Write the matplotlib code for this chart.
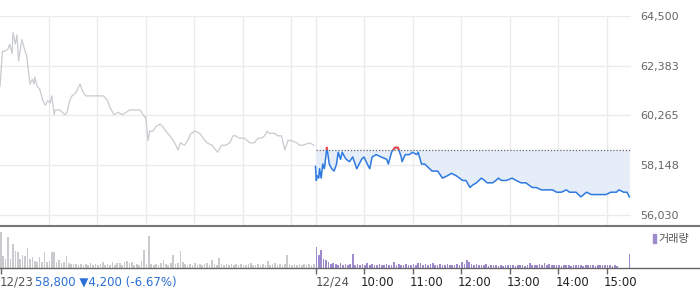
import numpy as np
import matplotlib
matplotlib.use("Agg")
import matplotlib.pyplot as plt
from matplotlib.lines import Line2D
from matplotlib.patches import Rectangle
from matplotlib.transforms import ScaledTranslation, blended_transform_factory


# -----------------------------
# DATA (minutes after 09:00 for each session, price in won)
# -----------------------------
prev_minutes = [0, 3, 6, 10, 12, 15, 16, 19, 21, 23, 27, 31, 33, 37, 40, 42, 43, 46, 49,
                53, 56, 59, 62, 64, 67, 68, 74, 80, 83, 86, 89, 93, 96, 99, 102, 106, 111,
                117, 123, 128, 133, 136, 141, 146, 151, 156, 160, 167, 173, 177, 179, 180,
                183, 185, 189, 193, 198, 201, 205, 210, 216, 220, 223, 228, 232, 236, 241,
                247, 251, 256, 262, 269, 274, 279, 284, 288, 291, 296, 302, 309, 314, 319,
                323, 327, 330, 333, 340, 343, 348, 352, 356, 360, 367, 370, 374, 383, 388]
prev_price = [61500, 63000, 63000, 63100, 63300, 62900, 63800, 63300, 63700, 62600, 63500,
              63000, 62800, 61600, 61800, 61600, 61900, 61500, 61400, 60900, 60700, 60900,
              60800, 61100, 60300, 60500, 60500, 60300, 60400, 60900, 61100, 61200, 61400,
              61600, 61300, 61100, 61100, 61100, 61100, 61100, 60900, 60600, 60300, 60400,
              60300, 60400, 60500, 60500, 60500, 60300, 60200, 60200, 59200, 59600, 59600,
              59800, 59900, 59800, 59600, 59400, 59100, 58800, 59100, 59000, 59200, 59500,
              59600, 59500, 59300, 59100, 59000, 58700, 59000, 59000, 59100, 59400, 59400,
              59300, 59300, 59100, 59100, 59300, 59300, 59400, 59600, 59500, 59500, 59400,
              59400, 58800, 59200, 59200, 59100, 59000, 59000, 59100, 59000]

today_minutes = [0, 1, 2, 4, 5, 7, 9, 11, 14, 15, 17, 20, 23, 26, 28, 31, 33, 36, 38, 42,
                 46, 51, 54, 57, 60, 64, 67, 70, 75, 81, 88, 90, 94, 98, 102, 106, 107, 111,
                 116, 120, 125, 127, 131, 135, 141, 144, 151, 157, 163, 168, 174, 178, 182,
                 186, 191, 194, 199, 205, 209, 212, 219, 223, 226, 230, 236, 243, 248, 254,
                 260, 264, 268, 273, 279, 285, 293, 298, 304, 310, 314, 317, 322, 328, 335,
                 341, 347, 353, 359, 365, 372, 375, 381, 385, 388]
today_price = [58100, 57500, 57700, 57600, 58000, 57600, 58200, 58000, 58900, 58700, 58200,
               58000, 57900, 58200, 58700, 58400, 58700, 58500, 58400, 58300, 58500, 58000,
               58200, 58400, 58500, 58200, 58000, 58500, 58600, 58500, 58400, 58200, 58700,
               58900, 58900, 58500, 58300, 58600, 58600, 58700, 58600, 58700, 58200, 58200,
               58000, 57900, 57900, 57600, 57700, 57800, 57700, 57600, 57500, 57500, 57200,
               57300, 57400, 57600, 57500, 57400, 57400, 57500, 57600, 57500, 57500, 57600,
               57500, 57400, 57400, 57300, 57200, 57200, 57100, 57100, 57100, 57000, 57000,
               57100, 57000, 57000, 57000, 56800, 57000, 56900, 56900, 56900, 56900, 57000,
               57000, 57100, 57000, 57000, 56800]

BASE_PRICE = 58800   # 12/23 close

# volume, one bar per 3 minutes (thousand shares)
prev_volume = [36, 12, 9, 31, 9, 24, 17, 16, 9, 13, 12, 20, 9, 11, 7, 6, 11, 6, 16, 6,
               7, 16, 16, 6, 8, 5, 6, 12, 5, 4, 4, 4, 3, 4, 3, 4, 3, 5, 3, 4,
               3, 4, 6, 3, 4, 3, 6, 3, 5, 5, 3, 6, 7, 5, 6, 3, 4, 3, 7, 18,
               4, 32, 4, 3, 4, 3, 5, 8, 4, 3, 5, 13, 4, 5, 17, 6, 4, 3, 4, 3,
               5, 3, 4, 3, 4, 5, 3, 8, 4, 3, 10, 4, 3, 4, 3, 4, 3, 4, 3, 4,
               3, 3, 4, 5, 3, 3, 4, 3, 4, 3, 7, 3, 4, 5, 3, 4, 3, 4, 13, 4,
               3, 4, 3, 4, 3, 4, 3, 4, 3, 4]
today_volume = [21, 13, 18, 9, 8, 6, 4, 5, 4, 3, 5, 3, 4, 3, 4, 14, 3, 4, 3, 4,
                3, 5, 3, 4, 3, 3, 4, 3, 3, 4, 3, 3, 6, 3, 4, 3, 3, 4, 3, 3,
                4, 3, 5, 5, 3, 4, 3, 4, 5, 3, 3, 4, 3, 3, 4, 3, 3, 3, 4, 3,
                6, 4, 8, 6, 4, 3, 4, 3, 3, 3, 4, 2, 3, 3, 3, 2, 3, 2, 3, 3,
                3, 3, 2, 3, 3, 3, 2, 3, 5, 3, 3, 3, 4, 3, 5, 3, 4, 3, 3, 3,
                3, 2, 3, 3, 3, 2, 3, 3, 3, 3, 2, 3, 3, 3, 3, 2, 3, 3, 3, 3,
                3, 3, 2, 3, 2, 0, 0, 0, 0, 14]

price_ticks = [56030, 58148, 60265, 62383, 64500]
time_labels = ["10:00", "11:00", "12:00", "13:00", "14:00", "15:00"]
day_labels = ["12/23", "12/24"]
info_text = "58,800 \u25bc4,200 (-6.67%)"
legend_label = "거래량"

SESSION = 390   # minutes per trading day


# -----------------------------
# FIGURE / LAYOUT
# -----------------------------
fig = plt.figure(figsize=(7.0, 2.89), dpi=100)
W, H = 700.0, 289.0

ax = fig.add_axes([0, 1 - 225 / H, 631 / W, 209 / H])
axv = fig.add_axes([0, 1 - 268 / H, 631 / W, 40 / H])

# -----------------------------
# PRICE PANEL
# -----------------------------
t_prev = np.array(prev_minutes)
t_today = np.array(today_minutes) + SESSION
p_today = np.array(today_price)

ax.plot(t_prev, prev_price, color="#c8cbd0", lw=0.9, zorder=3)

ax.fill_between(t_today, p_today, BASE_PRICE, color="#e5edf9", lw=0, zorder=1)
ax.plot([SESSION, 2 * SESSION], [BASE_PRICE, BASE_PRICE], color="#666666",
        lw=0.9, linestyle=(0, (1, 1.5)), zorder=2)
ax.plot(t_today, p_today, color="#2f7ae0", lw=1.1, zorder=3)
# above previous close -> red
red, = ax.plot(t_today, p_today, color="#f04848", lw=1.4, zorder=4)
red.set_clip_path(Rectangle((SESSION, BASE_PRICE), SESSION, 10000, transform=ax.transData))

grid_x = [60, 120, 180, 240, 300, 360, 390, 450, 510, 570, 630, 690, 750]
ax.set_xlim(0, 2 * SESSION)
ax.set_ylim(55604, 64500)
ax.set_xticks(grid_x)
ax.set_yticks(price_ticks)
ax.set_yticklabels([f"{v:,}" for v in price_ticks])
ax.grid(True, color="#ebebeb", lw=1)
ax.set_axisbelow(True)
ax.yaxis.tick_right()
ax.tick_params(axis="y", length=0, pad=6.5, labelsize=8, labelcolor="#666666")
ax.tick_params(axis="x", length=0, labelbottom=False)
for s in ax.spines.values():
    s.set_visible(False)
ax.patch.set_alpha(0)

# -----------------------------
# VOLUME PANEL
# -----------------------------
vol_t = np.arange(0, SESSION, 3)
axv.bar(vol_t, prev_volume, width=2.0, align="edge", color="#c8cacd", lw=0)
axv.bar(vol_t + SESSION, today_volume, width=2.0, align="edge", color="#9d8bcd", lw=0)
axv.set_xlim(0, 2 * SESSION)
axv.set_ylim(0, 40)
axv.set_yticks([])
axv.set_xticks([1.5, 390, 450, 510, 570, 630, 690, 750])
axv.set_xticklabels([])
axv.tick_params(axis="x", direction="out", length=4, width=1, color="#666666")
for s in axv.spines.values():
    s.set_visible(False)
axv.patch.set_alpha(0)

trans = blended_transform_factory(axv.transData, axv.transAxes)
shift = ScaledTranslation(-3 / 100, 0, fig.dpi_scale_trans)
label_y = (268 - 282) / 40.0
axv.text(0, label_y, day_labels[0], transform=trans, ha="left", va="center",
         fontsize=8.5, color="#555555")
axv.text(SESSION, label_y, day_labels[1], transform=trans, ha="left", va="center",
         fontsize=8.5, color="#555555")
for lab, m in zip(time_labels, [450, 510, 570, 630, 690, 750]):
    axv.text(m, label_y, lab, transform=trans + shift, ha="left", va="center",
             fontsize=8.5, color="#222222")

fig.text(35 / W, 1 - 282 / H, info_text, ha="left", va="center", fontsize=8.5,
         color="#2a6fd6")

# legend
fig.patches.append(Rectangle((653 / W, 1 - 243 / H), 3 / W, 9 / H, color="#9d8bcd",
                             transform=fig.transFigure, figure=fig))
fig.text(658 / W, 1 - 239 / H, legend_label, ha="left", va="center", fontsize=8,
         color="#555555", family=["Noto Sans CJK KR", "DejaVu Sans"])

# border lines across the full width
fig.add_artist(Line2D([0, 1], [1 - 225.5 / H] * 2, color="#777777", lw=1.5,
                      transform=fig.transFigure))
fig.add_artist(Line2D([0, 1], [1 - 268 / H] * 2, color="#666666", lw=1,
                      transform=fig.transFigure))

fig.savefig("out.png", dpi=100, facecolor="white")
